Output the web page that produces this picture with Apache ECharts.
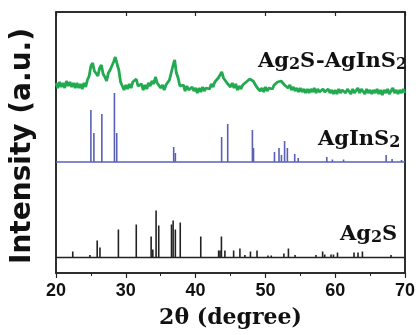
<!DOCTYPE html>
<html><head><meta charset="utf-8">
<script src="https://cdn.jsdelivr.net/npm/echarts@6/dist/echarts.min.js"></script>
<style>html,body{margin:0;padding:0;background:#fff}#c{width:418px;height:335px}</style>
</head><body><div id="c"></div>
<script>
// 2θ grid of the measured pattern (start, step)
const greenStart = 20, greenStep = 0.25;
// Ag2S-AgInS2 measured intensity (a.u.)
const greenY = [
190,185,191,186, 190,185,192,187, 191,186,190,185, 190,185,189,184,
190,186,193,197, 207,210,202,204, 197,205,208,199, 196,192,200,203,
207,211,216,209, 203,191,189,183, 188,184,189,185, 191,193,194,187,
187,189,183,188, 184,190,187,192, 189,196,190,190, 185,188,183,188,
190,193,200,207, 213,200,195,187, 186,188,182,187, 183,181,186,182,
185,180,185,181, 186,182,185,186, 184,189,186,191, 192,195,197,201,
195,195,190,191, 186,190,185,189, 183,187,184,188, 187,191,191,194,
195,192,189,186, 186,182,185,181, 186,182,185,185, 184,188,187,191,
190,192,191,188, 189,185,188,183, 186,182,185,181, 185,181,184,180,
184,180,184,181, 185,180,184,181, 182,184,181,179, 184,180,183,179,
183,179,184,180, 183,185,180,184, 183,179,184,180, 181,185,180,184,
183,179,184,180, 183,179,183,180, 184,179,183,178, 183,180,184,179,
181,185,180,183, 179,183,180,184, 180
];
// AgInS2 reference pattern
const blueBase = 111;
const blueX = [25.0,25.43,26.57,28.37,28.7,36.86,37.1,43.73,44.6,48.14,48.3,51.3,51.95,52.3,52.75,53.15,54.2,54.7,58.8,59.6,61.2,67.3,68.15,69.5];
const blueH = [52,29,48,69,29,15,9,25,38,32,14,10,14,7,21,14,8,4,5,2.5,2.5,7,3,2];
// Ag2S reference pattern
const blackBase = 15.5;
const blackX = [22.4,24.86,25.9,26.3,28.94,31.5,33.63,33.87,34.34,34.72,36.55,36.78,37.1,37.8,40.74,43.3,43.5,43.7,44.2,45.45,46.35,47.06,47.86,48.8,50.37,50.84,52.65,53.3,54.25,57.24,58.2,58.5,59.4,59.75,60.33,62.7,63.27,63.9,68.0];
const blackH = [6,2.5,17,10,28,33,21,8,47,32,33,37,28,35,21,7,7,21,7,7,9,2.5,6,7,2,2,4,9,2.5,2.5,6,3,3,3,5,5,5,6,2.5];
const xTicks = [20,30,40,50,60,70];

const GREEN = '#22aa50', BLUE = '#5a60b6', BLACK = '#222';
const greenData = greenY.map((v,i)=>[greenStart + i*greenStep, v]);
const stickData = (xs, hs, base) => xs.map((x,i)=>[x, base, base + hs[i]]);

function stickSeries(data, color, w){
  return {
    type:'custom', data, silent:true, z:3,
    renderItem(params, api){
      const p0 = api.coord([api.value(0), api.value(1)]);
      const p1 = api.coord([api.value(0), api.value(2)]);
      return {type:'line', shape:{x1:p0[0],y1:p0[1],x2:p1[0],y2:p1[1]}, style:{stroke:color, lineWidth:w}};
    }
  };
}
const subStyle = {fontFamily:'DejaVu Serif', fontWeight:'bold', fontSize:16, padding:[13,0,0,0], lineHeight:16, verticalAlign:'bottom'};
const mainStyle = {fontFamily:'DejaVu Serif', fontWeight:'bold', fontSize:21, lineHeight:22, verticalAlign:'middle'};

const chart = echarts.init(document.getElementById('c'));
chart.setOption({
  animation:false,
  grid:{left:56, right:10, top:12, bottom:62, show:true, borderColor:BLACK, borderWidth:1.5, backgroundColor:'transparent'},
  xAxis:[
    {type:'value', min:xTicks[0], max:xTicks[xTicks.length-1], interval:10, position:'bottom',
     axisLine:{show:true, onZero:false, lineStyle:{color:BLACK, width:1.5}},
     axisTick:{inside:false, length:5, lineStyle:{color:BLACK, width:1.2}},
     minorTick:{show:true, splitNumber:2, length:3, lineStyle:{color:BLACK, width:1}},
     splitLine:{show:false},
     axisLabel:{color:'#111', fontFamily:'Liberation Sans', fontWeight:'bold', fontSize:18, margin:9},
     name:'2θ (degree)', nameLocation:'middle', nameGap:34,
     nameTextStyle:{color:'#111', fontFamily:'DejaVu Serif', fontWeight:'bold', fontSize:22}},
    {type:'value', min:xTicks[0], max:xTicks[xTicks.length-1], interval:10, position:'top',
     axisLine:{show:true, onZero:false, lineStyle:{color:BLACK, width:1.5}},
     axisTick:{show:true, inside:true, length:4, lineStyle:{color:BLACK, width:1.2}},
     axisLabel:{show:false}, splitLine:{show:false}}
  ],
  yAxis:[
    {type:'value', min:0, max:261, position:'left',
     axisLine:{show:true, onZero:false, lineStyle:{color:BLACK, width:1.5}},
     axisTick:{show:false}, axisLabel:{show:false}, splitLine:{show:false}},
    {type:'value', min:0, max:261, position:'right',
     axisLine:{show:true, onZero:false, lineStyle:{color:BLACK, width:1.5}},
     axisTick:{show:false}, axisLabel:{show:false}, splitLine:{show:false}}
  ],
  series:[
    {type:'line', data:greenData, showSymbol:false, lineStyle:{color:GREEN, width:2.8}, z:4},
    {type:'line', xAxisIndex:1, data:[[20,blueBase],[70,blueBase]], showSymbol:false, lineStyle:{color:BLUE, width:1.3}},
    {type:'line', data:[[20,blackBase],[70,blackBase]], showSymbol:false, lineStyle:{color:BLACK, width:1.5}},
    stickSeries(stickData(blueX, blueH, blueBase), BLUE, 1.6),
    stickSeries(stickData(blackX, blackH, blackBase), BLACK, 1.6)
  ],
  graphic:[
    {type:'text', x:23, y:146, rotation:Math.PI/2,
     style:{text:'Intensity (a.u.)', fill:'#111', font:'bold 28px "DejaVu Sans"', align:'center', verticalAlign:'middle'}},
    {type:'text', left:258, top:44, style:{text:'{m|Ag}{s|2}{m|S-AgInS}{s|2}', rich:{m:mainStyle, s:subStyle}, fill:'#111'}},
    {type:'text', left:318, top:122, style:{text:'{m|AgInS}{s|2}', rich:{m:mainStyle, s:subStyle}, fill:'#111'}},
    {type:'text', left:340, top:217, style:{text:'{m|Ag}{s|2}{m|S}', rich:{m:mainStyle, s:subStyle}, fill:'#111'}}
  ]
});
</script></body></html>
